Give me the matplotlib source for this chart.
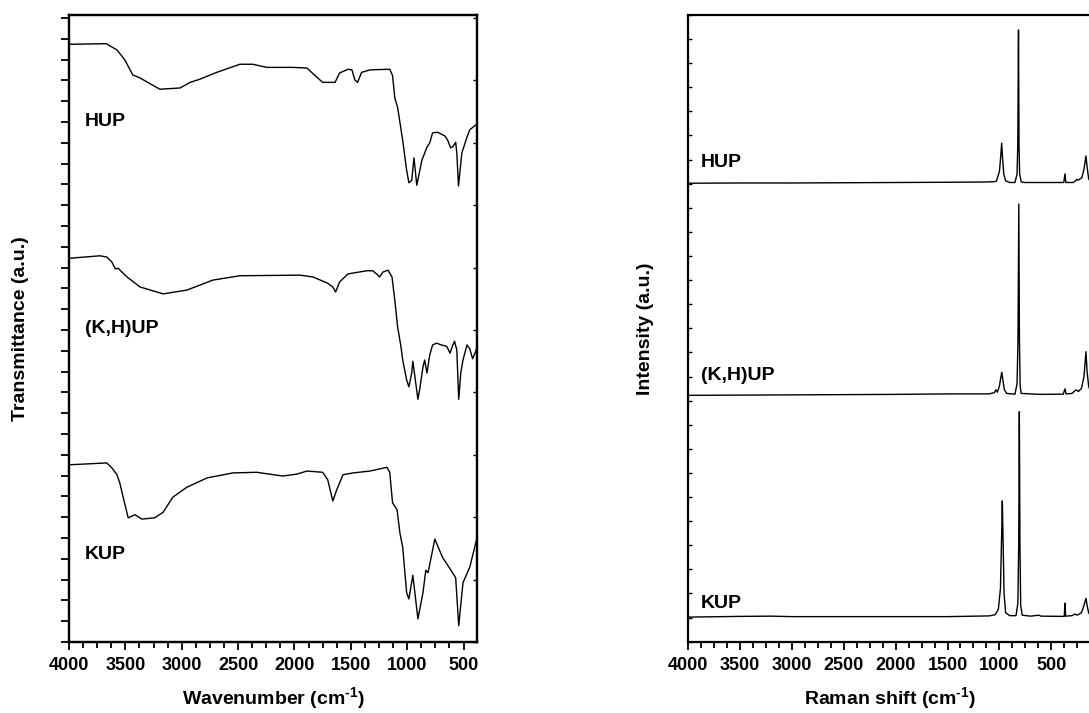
import matplotlib
matplotlib.use("Agg")
import matplotlib.pyplot as plt
from matplotlib.ticker import MultipleLocator, NullFormatter

# ─────────────────────────── FT-IR data (left) ───────────────────────────
IR_HUP_WN = [4000, 3670, 3575, 3505, 3435, 3370, 3195, 3015, 2925, 2840, 2690, 2485,
             2370, 2245, 2015, 1890, 1800, 1750, 1640, 1600, 1525, 1490, 1465, 1440,
             1405, 1330, 1155, 1130, 1110, 1085, 1040, 1005, 985, 960, 940, 915, 870,
             825, 800, 775, 730, 665, 640, 615, 595, 570, 560, 545, 515, 470, 445, 383]
IR_HUP_T = [9.58, 9.59, 9.49, 9.33, 9.09, 9.04, 8.86, 8.88, 8.97, 9.02, 9.13, 9.26,
            9.26, 9.21, 9.21, 9.20, 9.05, 8.97, 8.97, 9.12, 9.18, 9.17, 9.01, 8.97,
            9.13, 9.17, 9.18, 9.08, 8.72, 8.57, 8.04, 7.56, 7.36, 7.40, 7.76, 7.32, 7.72,
            7.93, 8.00, 8.16, 8.17, 8.11, 8.04, 7.92, 7.94, 8.01, 7.84, 7.31, 7.84, 8.09,
            8.21, 8.30]

IR_KH_WN = [4000, 3725, 3665, 3620, 3590, 3565, 3485, 3370, 3165, 2955, 2725, 2485,
            1950, 1835, 1705, 1660, 1635, 1600, 1525, 1360, 1305, 1260, 1245, 1215,
            1170, 1135, 1110, 1085, 1055, 1040, 1005, 985, 960, 950, 905, 890, 860, 845,
            825, 800, 775, 740, 695, 650, 620, 595, 580, 560, 543, 525, 505, 470, 445,
            420, 392, 383]
IR_KH_T = [6.15, 6.19, 6.17, 6.09, 5.98, 5.99, 5.85, 5.69, 5.58, 5.64, 5.80, 5.87,
           5.88, 5.85, 5.75, 5.69, 5.61, 5.77, 5.90, 5.95, 5.95, 5.88, 5.85, 5.93,
           5.96, 5.85, 5.48, 5.05, 4.73, 4.52, 4.20, 4.09, 4.31, 4.50, 3.89, 4.04, 4.41,
           4.52, 4.31, 4.60, 4.76, 4.79, 4.76, 4.74, 4.63, 4.76, 4.82, 4.68, 3.89, 4.31,
           4.52, 4.76, 4.70, 4.54, 4.66, 4.71]

IR_KUP_WN = [4000, 3665, 3620, 3575, 3550, 3520, 3475, 3415, 3355, 3240, 3165, 3080,
             2955, 2775, 2545, 2335, 2105, 1980, 1890, 1750, 1705, 1660, 1625, 1570,
             1480, 1330, 1180, 1155, 1130, 1090, 1065, 1040, 1005, 985, 950, 905, 860,
             835, 815, 755, 685, 640, 570, 543, 505, 445, 383]
IR_KUP_T = [2.84, 2.87, 2.79, 2.68, 2.55, 2.32, 1.99, 2.04, 1.97, 1.99, 2.08, 2.32,
            2.48, 2.63, 2.71, 2.72, 2.66, 2.69, 2.74, 2.72, 2.60, 2.26, 2.44, 2.68,
            2.71, 2.74, 2.80, 2.72, 2.23, 2.12, 1.75, 1.52, 0.79, 0.69, 1.07, 0.37, 0.79,
            1.15, 1.11, 1.65, 1.35, 1.23, 1.03, 0.26, 0.95, 1.20, 1.65]

# ─────────────────────────── Raman data (right) ──────────────────────────
RA_HUP_WN = [4000, 3500, 3000, 2500, 2000, 1500, 1150, 1060, 1030, 1000, 988, 978, 970,
             958, 940, 900, 850, 830, 823, 816, 811, 805, 790, 760, 600, 380, 368, 360,
             290, 265, 255, 240, 205, 185, 166, 155, 140, 125]
RA_HUP_I = [19.02, 19.03, 19.03, 19.04, 19.05, 19.06, 19.07, 19.08, 19.1, 19.5, 20.1,
            20.68, 20.1, 19.4, 19.12, 19.05, 19.05, 19.4, 20.6, 25.38, 20.6, 19.4, 19.08,
            19.05, 19.05, 19.05, 19.41, 19.05, 19.05, 19.12, 19.18, 19.15, 19.25, 19.6,
            20.15, 19.7, 19.2, 19.1]

RA_KH_WN = [4000, 3000, 2000, 1500, 1100, 1050, 1033, 1020, 1000, 985, 977, 968, 952,
            930, 850, 830, 821, 813, 807, 800, 790, 600, 385, 368, 358, 300, 270, 255,
            240, 210, 185, 166, 155, 140, 125]
RA_KH_I = [10.22, 10.24, 10.26, 10.28, 10.28, 10.33, 10.45, 10.35, 10.6, 11.0, 11.18,
           10.9, 10.45, 10.3, 10.27, 10.7, 12.5, 18.16, 12.5, 10.6, 10.3, 10.26, 10.27,
           10.49, 10.28, 10.3, 10.42, 10.44, 10.38, 10.5, 11.0, 12.03, 11.2, 10.6, 10.4]

RA_KUP_WN = [4000, 3500, 3200, 3000, 2000, 1500, 1100, 1040, 1010, 990, 978, 972, 966,
             955, 940, 900, 840, 822, 814, 808, 802, 795, 780, 700, 620, 600, 375, 368,
             362, 300, 272, 250, 210, 185, 166, 155, 140, 125]
RA_KUP_I = [1.02, 1.05, 1.06, 1.04, 1.04, 1.04, 1.07, 1.12, 1.35, 2.2, 4.5, 5.84, 4.5,
            2.0, 1.2, 1.08, 1.08, 1.6, 4.0, 9.54, 4.0, 1.5, 1.1, 1.06, 1.1, 1.06, 1.05,
            1.6, 1.06, 1.08, 1.15, 1.1, 1.2, 1.5, 1.8, 1.5, 1.2, 1.1]

SAMPLES = ["HUP", "(K,H)UP", "KUP"]
IR_LABEL_Y = [8.27, 4.95, 1.33]
RA_LABEL_Y = [19.71, 10.86, 1.41]

FONT = "Liberation Sans"


def _style_bottom(ax):
    ax.xaxis.set_major_locator(MultipleLocator(500))
    ax.xaxis.set_minor_locator(MultipleLocator(125))
    ax.tick_params(axis="x", which="both", direction="out", top=False,
                   labelsize=13, width=1.3, pad=5)
    ax.tick_params(axis="x", which="major", length=6)
    ax.tick_params(axis="x", which="minor", length=4)
    for lab in ax.get_xticklabels():
        lab.set_fontweight("bold")
        lab.set_family(FONT)
    for sp in ax.spines.values():
        sp.set_linewidth(1.6)


def main() -> None:
    plt.rcParams["font.family"] = [FONT, "DejaVu Sans"]
    plt.rcParams["font.weight"] = "bold"
    plt.rcParams["mathtext.fontset"] = "custom"
    plt.rcParams["mathtext.rm"] = "Liberation Sans:bold"
    plt.rcParams["mathtext.it"] = "Liberation Sans:bold"
    plt.rcParams["mathtext.bf"] = "Liberation Sans:bold"

    fig = plt.figure(figsize=(10.89, 7.13), dpi=100)

    # ── left: FT-IR ──
    ax1 = fig.add_axes([0.0634, 0.0996, 0.3747, 0.8794])
    for wn, t in [(IR_HUP_WN, IR_HUP_T), (IR_KH_WN, IR_KH_T), (IR_KUP_WN, IR_KUP_T)]:
        ax1.plot(wn, t, color="black", lw=1.0)
    ax1.set_xlim(4000, 380)
    ax1.set_ylim(0, 10.05)
    _style_bottom(ax1)
    ax1.yaxis.set_major_locator(MultipleLocator(1 / 3))
    ax1.yaxis.set_major_formatter(NullFormatter())
    ax1.tick_params(axis="y", which="major", direction="out", length=6, width=1.3)
    ax1r = ax1.twinx()
    ax1r.set_ylim(ax1.get_ylim())
    ax1r.yaxis.set_major_locator(MultipleLocator(1))
    ax1r.yaxis.set_major_formatter(NullFormatter())
    ax1r.tick_params(axis="y", direction="in", length=3, width=1.0)
    for sp in ax1r.spines.values():
        sp.set_linewidth(1.6)
    for name, y in zip(SAMPLES, IR_LABEL_Y):
        ax1.text(3860, y, name, fontsize=14, fontweight="bold", va="baseline")
    ax1.set_xlabel(r"Wavenumber (cm$^{\text{-1}}$)", fontsize=14, fontweight="bold",
                   labelpad=8)
    ax1.set_ylabel("Transmittance (a.u.)", fontsize=14, fontweight="bold",
                   labelpad=19)

    # ── right: Raman ──
    ax2 = fig.add_axes([0.6318, 0.1, 0.3717, 0.879])
    for wn, i in [(RA_HUP_WN, RA_HUP_I), (RA_KH_WN, RA_KH_I), (RA_KUP_WN, RA_KUP_I)]:
        ax2.plot(wn, i, color="black", lw=1.0)
    ax2.set_xlim(4000, 100)
    ax2.set_ylim(0, 26)
    _style_bottom(ax2)
    ax2.yaxis.set_major_locator(MultipleLocator(1))
    ax2.yaxis.set_major_formatter(NullFormatter())
    ax2.tick_params(axis="y", which="major", direction="in", length=3, width=1.0)
    for name, y in zip(SAMPLES, RA_LABEL_Y):
        ax2.text(3875, y, name, fontsize=14, fontweight="bold", va="baseline")
    ax2.set_xlabel(r"Raman shift (cm$^{\text{-1}}$)", fontsize=14, fontweight="bold",
                   labelpad=8)
    ax2.set_ylabel("Intensity (a.u.)", fontsize=14, fontweight="bold", labelpad=21)

    fig.savefig("out.png", dpi=100)


if __name__ == "__main__":
    main()
